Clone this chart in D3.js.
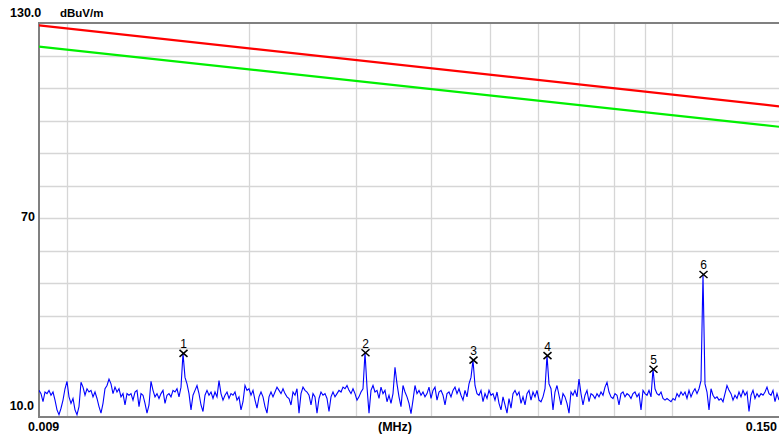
<!DOCTYPE html>
<html>
<head>
<meta charset="utf-8">
<script src="https://cdn.jsdelivr.net/npm/d3@7/dist/d3.min.js"></script>
<style>
  html, body { margin: 0; padding: 0; background: #fff; }
  svg { display: block; }
  text { font-family: "Liberation Sans", Arial, sans-serif; fill: #000; }
</style>
</head>
<body>
<svg id="chart" width="779" height="439"></svg>
<script>
// Sweep settings (MHz) and level axis (dBuV/m)
const sweepStart = 0.009;
const sweepStop = 0.150;
const levelMin = 10;
const levelMax = 130;

// Axis tick labels
const yTickLabels = ["130.0", "70", "10.0"];
const yTickValues = [130, 70, 10];
const xTickLabels = ["0.009", "(MHz)", "0.150"];
const unitLabel = "dBuV/m";

// Grid positions
const freqGrid = [0.01, 0.02, 0.03, 0.04, 0.05, 0.06, 0.07, 0.08, 0.09, 0.1];
const levelGrid = [20, 30, 40, 50, 60, 70, 80, 90, 100, 110, 120];

// Limit lines: [level at start, level at stop]
const limitFreqs = [0.009, 0.150];
const limitRed = [129.4, 104.5];
const limitGreen = [122.9, 98.2];

// Measured trace levels, one per sweep point (log-spaced from start to stop)
const traceLevels = [
  17.0,16.0,13.5,16.5,16.0,17.0,15.5,16.5,14.0,11.0,9.5,11.5,14.0,17.5,19.8,15.0,13.0,14.5,11.0,9.5,
  12.0,19.5,18.0,15.5,17.5,16.5,17.0,15.0,16.5,14.5,12.0,10.0,13.0,17.5,18.5,20.5,19.0,16.0,18.0,16.5,
  17.5,15.0,16.0,12.5,16.0,15.5,16.0,14.0,16.5,17.0,12.0,16.0,15.5,13.0,10.0,12.5,19.8,17.0,15.0,16.0,
  14.5,16.0,17.0,13.0,15.5,16.0,15.0,17.0,16.5,17.5,15.0,18.0,28.4,21.0,19.0,16.0,11.0,15.5,17.0,18.5,
  16.0,12.5,10.5,15.5,17.0,15.5,16.5,14.5,16.5,15.0,20.0,16.0,14.0,15.5,16.5,14.5,16.0,15.5,16.5,14.0,
  15.0,11.0,13.5,18.5,17.0,17.5,15.5,17.0,14.0,11.5,15.0,16.5,15.0,12.0,10.0,15.0,16.5,15.0,16.5,18.0,
  17.0,16.0,17.5,16.0,15.0,
  14.5,12.5,16.5,15.5,17.5,10.0,16.0,18.0,17.0,16.5,15.5,12.5,16.0,15.0,10.0,14.5,16.5,15.5,16.0,14.5,
  10.5,15.0,16.5,15.0,16.0,17.0,16.5,18.0,17.5,18.5,17.0,16.0,17.5,16.0,14.0,15.0,16.5,17.5,28.6,18.0,
  10.0,17.0,18.5,16.5,17.0,14.5,18.0,16.0,17.0,13.5,15.5,13.0,16.0,24.1,19.0,15.0,12.0,18.5,16.5,15.0,
  13.0,9.8,14.0,18.5,16.0,17.0,15.5,16.5,15.0,16.0,18.0,14.5,17.0,18.0,14.0,16.5,17.0,15.5,12.5,16.0,
  16.5,15.0,17.0,18.0,16.0,17.5,15.5,14.0,17.0,15.0,19.0,21.0,26.3,18.5,16.0,15.5,17.0,13.5,16.0,14.5,
  17.0,15.5,16.0,14.0,16.5,13.0,11.0,15.0,12.5,10.0,14.5,11.5,16.0,17.0,15.5,16.5,13.0,15.0,12.5,16.0,
  17.0,14.0,16.5,15.0,17.0,
  14.0,13.5,15.0,17.5,27.7,19.0,17.5,11.0,16.5,18.5,15.5,12.5,16.0,15.0,13.0,10.0,16.5,15.5,17.0,15.0,
  20.5,16.0,12.5,15.5,17.0,13.5,16.0,15.5,14.5,16.0,15.0,16.5,15.5,18.0,19.5,16.5,15.0,14.5,16.0,15.5,
  12.5,16.0,16.5,15.0,16.0,15.5,14.5,16.0,16.5,15.0,16.0,11.0,17.0,16.0,15.5,17.0,15.0,23.5,17.5,16.0,
  15.5,16.5,14.5,14.0,14.5,14.0,13.5,14.5,14.0,16.0,15.0,16.5,15.5,16.5,14.5,17.0,15.0,16.5,17.5,16.0,
  17.5,20.0,52.7,19.0,16.5,11.0,17.5,15.5,14.5,15.0,14.0,14.5,13.5,16.0,18.5,17.0,16.0,14.0,15.5,14.5,
  16.5,15.0,17.0,15.5,16.5,10.5,15.5,17.0,14.5,16.0,15.0,16.0,15.5,16.5,18.0,16.0,15.5,17.0,13.5,16.0,
  14.0
];

// Peak markers
const markerIds = ["1", "2", "3", "4", "5", "6"];
const markerFreqs = [0.01556, 0.03108, 0.04686, 0.06209, 0.0929, 0.1124];
const markerLevels = [28.4, 28.6, 26.3, 27.7, 23.5, 52.7];

const svg = d3.select("#chart");

const x = d3.scaleLog().domain([sweepStart, sweepStop]).range([39, 779]);
const y = d3.scaleLinear().domain([levelMin, levelMax]).range([413.1, 23.5]);

const plotTop = 23, plotBottom = 417, plotLeft = 39, plotRight = 779;

// Clip region for the plot area
svg.append("defs").append("clipPath").attr("id", "plotClip")
  .append("rect")
  .attr("x", plotLeft).attr("y", plotTop)
  .attr("width", plotRight - plotLeft).attr("height", plotBottom - plotTop);

// Grid
const grid = svg.append("g").attr("stroke", "#d6d6d6").attr("stroke-width", 1.3);
grid.selectAll("line.v").data(freqGrid).join("line")
  .attr("class", "v")
  .attr("x1", d => Math.round(x(d)) + 0.5).attr("x2", d => Math.round(x(d)) + 0.5)
  .attr("y1", plotTop).attr("y2", plotBottom);
grid.selectAll("line.h").data(levelGrid).join("line")
  .attr("class", "h")
  .attr("x1", plotLeft).attr("x2", plotRight)
  .attr("y1", d => Math.round(y(d)) + 0.5).attr("y2", d => Math.round(y(d)) + 0.5);

// Frame
const frame = svg.append("g").attr("stroke", "#808080").attr("stroke-width", 2);
frame.append("line").attr("x1", plotLeft).attr("x2", plotLeft).attr("y1", 22).attr("y2", 418);
frame.append("line").attr("x1", 38).attr("x2", plotRight).attr("y1", plotTop).attr("y2", plotTop);
frame.append("line").attr("x1", 38).attr("x2", plotRight).attr("y1", plotBottom).attr("y2", plotBottom);

const plot = svg.append("g").attr("clip-path", "url(#plotClip)");

// Limit lines
const limitLine = d3.line().x(d => x(d[0])).y(d => y(d[1]));
plot.append("path")
  .datum(limitFreqs.map((f, i) => [f, limitGreen[i]]))
  .attr("d", limitLine).attr("fill", "none")
  .attr("stroke", "#00f000").attr("stroke-width", 2.2);
plot.append("path")
  .datum(limitFreqs.map((f, i) => [f, limitRed[i]]))
  .attr("d", limitLine).attr("fill", "none")
  .attr("stroke", "#ff0000").attr("stroke-width", 2.2);

// Trace
const n = traceLevels.length;
const logStart = Math.log10(sweepStart), logStop = Math.log10(sweepStop);
const traceFreqs = traceLevels.map((_, i) => Math.pow(10, logStart + i * (logStop - logStart) / (n - 1)));
plot.append("path")
  .datum(traceLevels.map((v, i) => [traceFreqs[i], v]))
  .attr("d", d3.line().x(d => x(d[0])).y(d => y(d[1])))
  .attr("fill", "none")
  .attr("stroke", "#0000ff")
  .attr("stroke-width", 1.1);

// Markers
const markers = svg.append("g");
markerIds.forEach((id, i) => {
  const mx = Math.round(x(markerFreqs[i])) + 0.5;
  const my = y(markerLevels[i]);
  const g = markers.append("g");
  g.append("line").attr("x1", mx - 4).attr("x2", mx + 4).attr("y1", my - 3.5).attr("y2", my + 3.5)
    .attr("stroke", "#000").attr("stroke-width", 1.5);
  g.append("line").attr("x1", mx - 4).attr("x2", mx + 4).attr("y1", my + 3.5).attr("y2", my - 3.5)
    .attr("stroke", "#000").attr("stroke-width", 1.5);
  g.append("text").attr("x", mx).attr("y", my - 5)
    .attr("text-anchor", "middle").attr("font-size", "12px").text(id);
});

// Y labels
const labels = svg.append("g").attr("font-weight", "bold").attr("font-size", "12.5px");
labels.append("text").attr("x", 10).attr("y", y(yTickValues[0]) - 7).text(yTickLabels[0]);
labels.append("text").attr("x", 35).attr("y", y(yTickValues[1]) + 2.5)
  .attr("text-anchor", "end").text(yTickLabels[1]);
labels.append("text").attr("x", 34).attr("y", y(yTickValues[2]) - 3)
  .attr("text-anchor", "end").text(yTickLabels[2]);
labels.append("text").attr("x", 60).attr("y", y(yTickValues[0]) - 7)
  .attr("font-size", "11.5px").text(unitLabel);

// X labels
labels.append("text").attr("x", 28).attr("y", 431).text(xTickLabels[0]);
labels.append("text").attr("x", 395).attr("y", 431).attr("text-anchor", "middle").text(xTickLabels[1]);
labels.append("text").attr("x", 777).attr("y", 431).attr("text-anchor", "end").text(xTickLabels[2]);
</script>
</body>
</html>
